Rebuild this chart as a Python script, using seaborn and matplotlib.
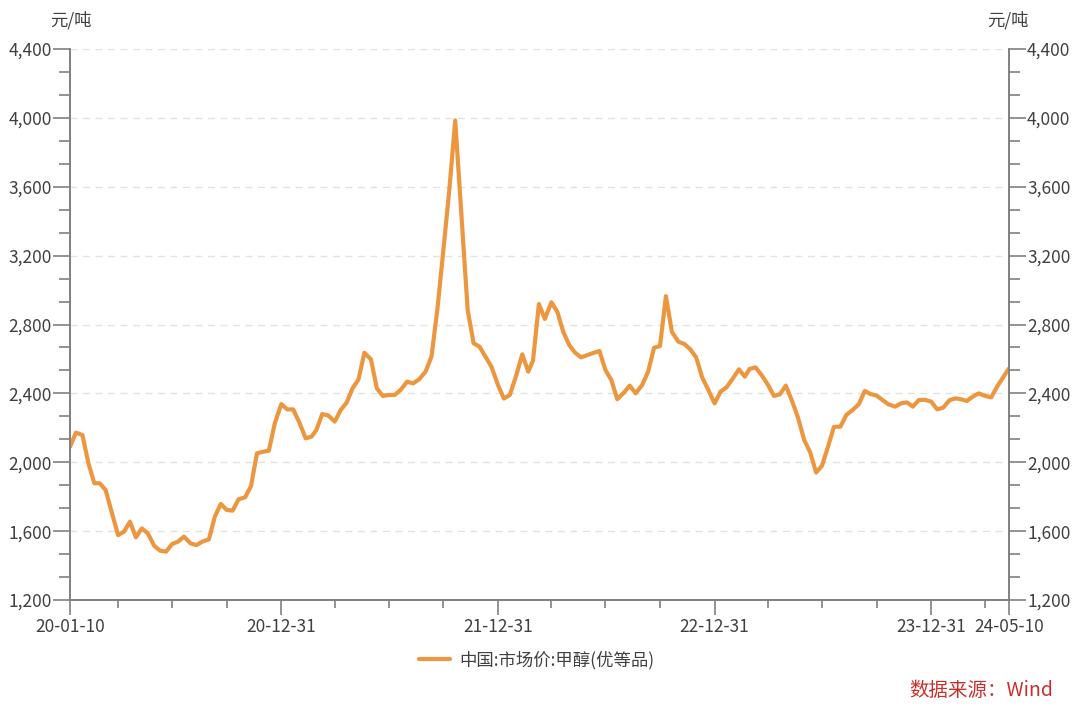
import pandas as pd
import matplotlib.pyplot as plt
import matplotlib.dates as mdates
import seaborn as sns
from matplotlib.ticker import FixedLocator, FuncFormatter

# Methanol market price, dekad data (10th, 20th, month end)
price_2020 = [2090, 2172, 2158, 1994, 1878, 1878, 1839, 1713, 1577, 1597,
              1655, 1564, 1616, 1587, 1514, 1486, 1481, 1525, 1539, 1568,
              1529, 1519, 1539, 1552, 1684, 1758, 1723, 1719, 1785, 1796,
              1862, 2052, 2061, 2067, 2226, 2338]
price_2021 = [2307, 2307, 2226, 2139, 2149, 2187, 2280, 2272, 2236, 2303,
              2346, 2429, 2481, 2636, 2598, 2429, 2385, 2391, 2391, 2420,
              2468, 2458, 2481, 2526, 2613, 2890, 3230, 3580, 3985, 3410,
              2884, 2691, 2671, 2613, 2555, 2449]
price_2022 = [2370, 2391, 2507, 2627, 2526, 2590, 2919, 2832, 2929, 2874,
              2758, 2681, 2636, 2609, 2623, 2635, 2646, 2536, 2478, 2366,
              2404, 2445, 2400, 2449, 2526, 2665, 2675, 2965, 2758, 2700,
              2687, 2656, 2609, 2493, 2423, 2342]
price_2023 = [2410, 2435, 2488, 2540, 2497, 2542, 2551, 2507, 2449, 2385,
              2395, 2445, 2360, 2265, 2129, 2058, 1940, 1980, 2090, 2205,
              2207, 2275, 2302, 2337, 2414, 2396, 2387, 2361, 2336, 2323,
              2342, 2348, 2323, 2361, 2363, 2352]
price_2024 = [2307, 2317, 2361, 2371, 2365, 2356, 2381, 2400, 2385, 2377,
              2439, 2493, 2545]

series_name = "中国:市场价:甲醇(优等品)"
unit_label = "元/吨"
source_label = "数据来源：Wind"
major_dates = ["2020-01-10", "2020-12-31", "2021-12-31", "2022-12-31", "2023-12-31", "2024-05-10"]
y_ticks = [1200, 1600, 2000, 2400, 2800, 3200, 3600, 4000, 4400]

# dates: 10th, 20th and last day of every month
dates = []
for m in pd.period_range("2020-01", "2024-05", freq="M"):
    start = m.start_time
    dates += [start + pd.Timedelta(days=9), start + pd.Timedelta(days=19), m.end_time.normalize()]
dates = [d for d in dates if d <= pd.Timestamp("2024-05-10")]

prices = price_2020 + price_2021 + price_2022 + price_2023 + price_2024
df = pd.DataFrame({"date": dates, "price": prices})

sns.set_theme(style="white")
plt.rcParams["font.family"] = ["Noto Sans CJK SC", "DejaVu Sans"]

line_color = "#EC9740"
axis_color = "#808080"
text_color = "#404040"

fig = plt.figure(figsize=(10.8, 7.06), dpi=100)
ax = fig.add_axes([70 / 1080, 106 / 706, 939 / 1080, 551 / 706])

sns.lineplot(data=df, x="date", y="price", ax=ax, color=line_color,
             linewidth=1.7, label=series_name, legend=False)

ax.set_xlim(pd.Timestamp(major_dates[0]), pd.Timestamp(major_dates[-1]))
ax.set_ylim(1200, 4400)
ax.set_xlabel("")
ax.set_ylabel("")

# x ticks: year ends are major, quarter ends minor
ax.xaxis.set_major_locator(FixedLocator(mdates.date2num(pd.to_datetime(major_dates))))
ax.xaxis.set_major_formatter(mdates.DateFormatter("%y-%m-%d"))
quarter_ends = [d for d in pd.date_range("2020-03-31", "2024-03-31", freq="QE") if d.month != 12]
ax.xaxis.set_minor_locator(FixedLocator(mdates.date2num(quarter_ends)))

minor_y = [1200 + i * 400 / 3 for i in range(25)]
fmt = FuncFormatter(lambda v, p: f"{int(v):,}")

ax2 = ax.twinx()
ax2.set_ylim(1200, 4400)
for a in (ax, ax2):
    a.set_yticks(y_ticks)
    a.yaxis.set_major_formatter(fmt)
    a.yaxis.set_minor_locator(FixedLocator(minor_y))
    a.tick_params(axis="y", which="major", length=12, width=1.2, color=axis_color,
                  labelsize=12.5, labelcolor=text_color, pad=1)
    a.tick_params(axis="y", which="minor", length=8, width=1.2, color=axis_color)
    for s in a.spines.values():
        s.set_color(axis_color)
        s.set_linewidth(1.2)
    a.spines["top"].set_visible(False)

ax.tick_params(axis="y", which="both", left=True, right=False)
ax2.tick_params(axis="y", which="both", left=False, right=True)
ax.tick_params(axis="x", which="major", length=11, width=1.2, color=axis_color,
               labelsize=12.5, labelcolor=text_color, pad=2, bottom=True)
ax.tick_params(axis="x", which="minor", length=6, width=1.2, color=axis_color, bottom=True)

ax.grid(axis="y", linestyle=(0, (5, 4)), color="#e2e2e2", linewidth=1)
ax.grid(axis="x", visible=False)
ax2.grid(False)

fig.text(71 / 1080, 1 - 20 / 706, unit_label, ha="center", va="center", fontsize=12.5, color=text_color)
fig.text(1008 / 1080, 1 - 20 / 706, unit_label, ha="center", va="center", fontsize=12.5, color=text_color)

handles, labels = ax.get_legend_handles_labels()
for h in handles:
    h.set_linewidth(3)
fig.legend(handles, labels, loc="center", bbox_to_anchor=(0.497, 1 - 660 / 706), frameon=False,
           fontsize=12.5, handlelength=1.8, handletextpad=0.5, labelcolor=text_color)

fig.text(1053 / 1080, 1 - 690 / 706, source_label, ha="right", va="center", fontsize=14, color="#C8312B")

fig.savefig("out.png", dpi=100)
